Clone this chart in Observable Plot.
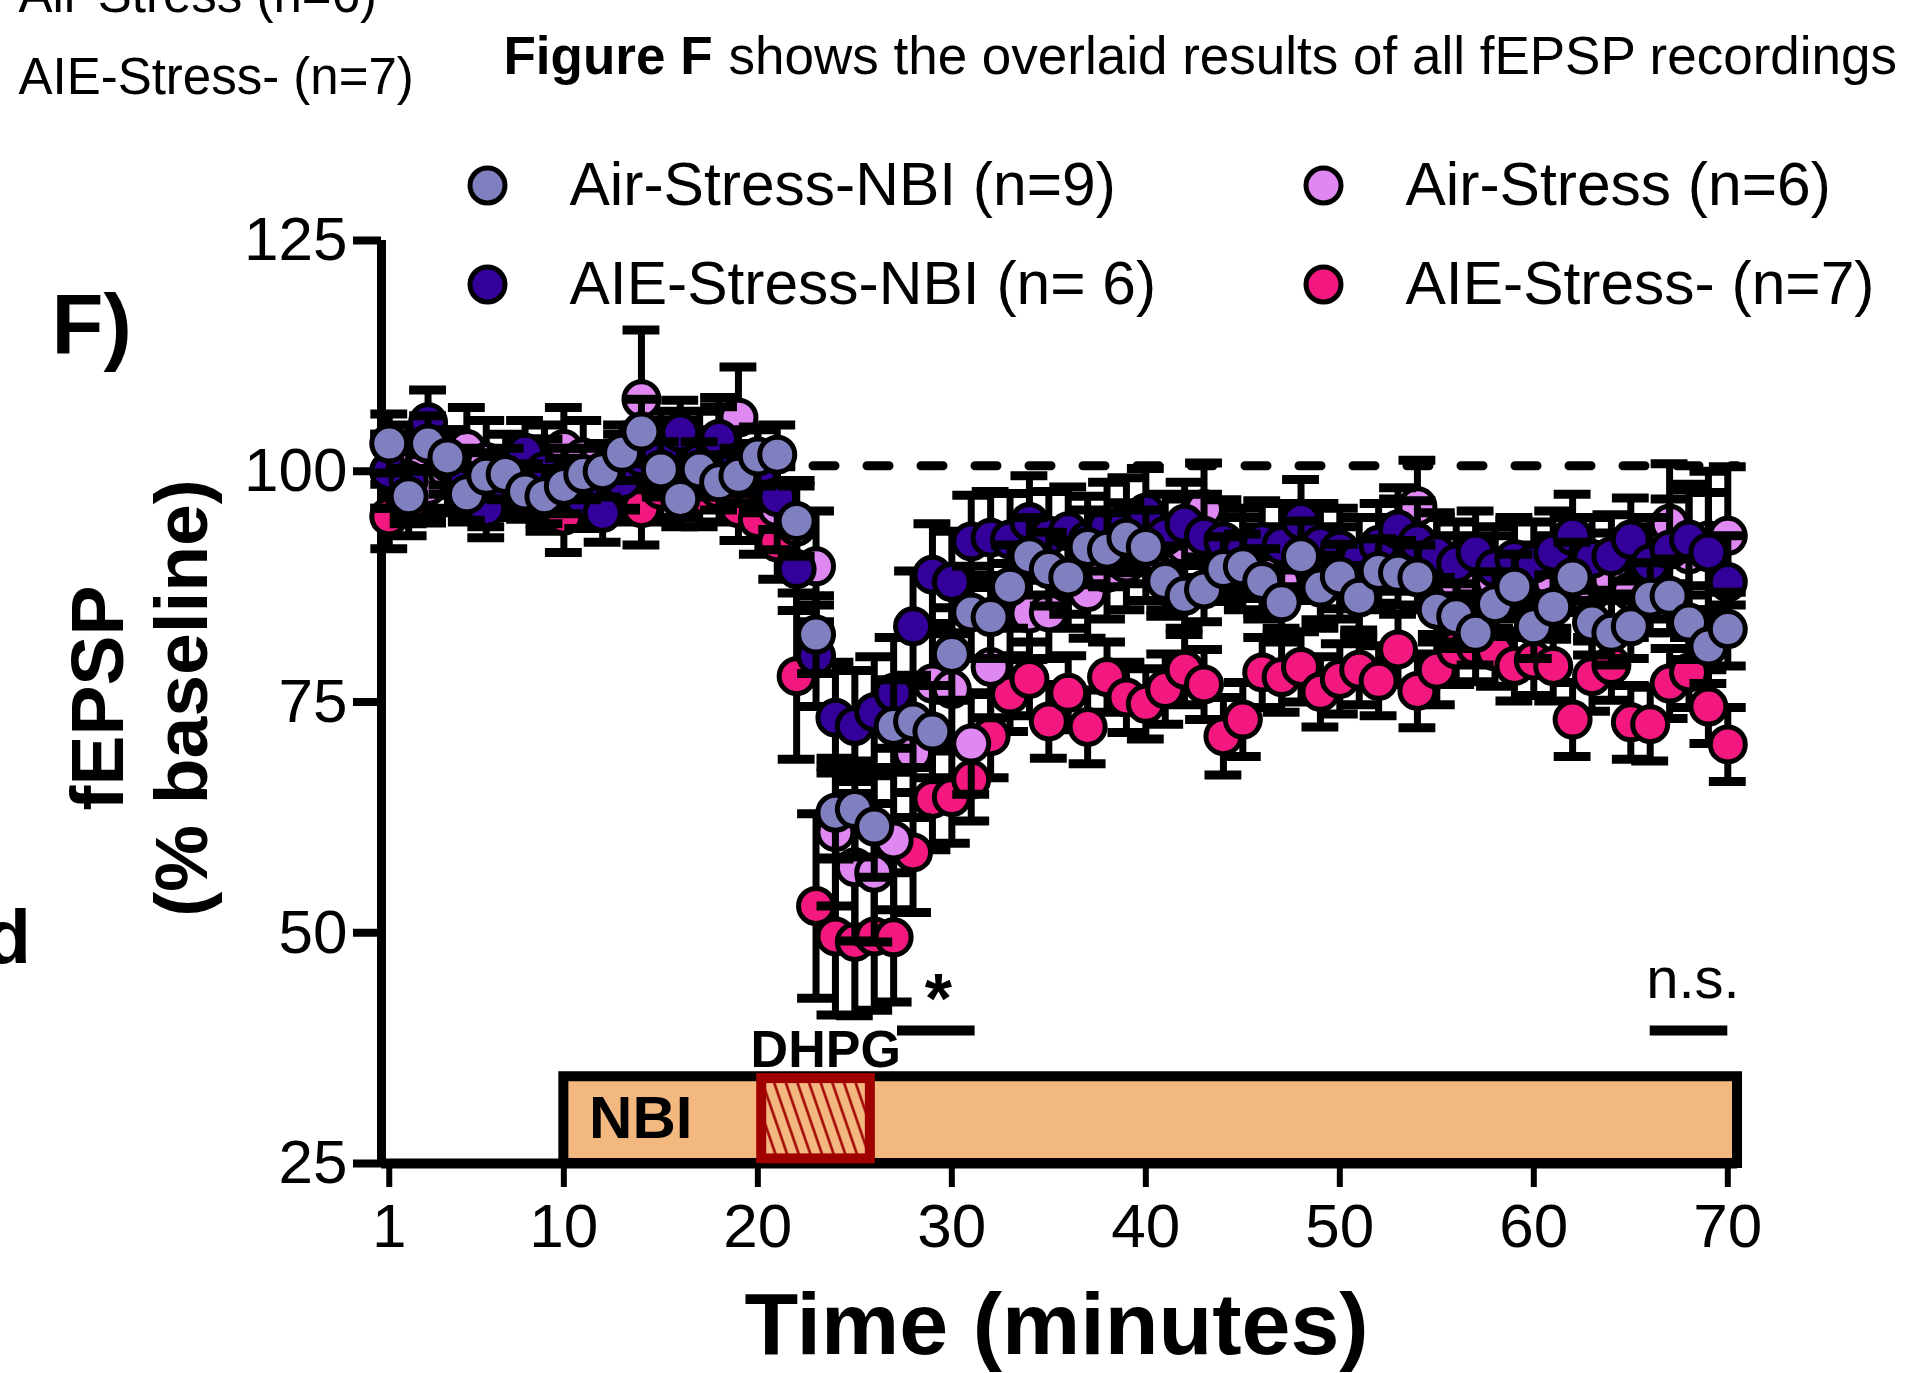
<!DOCTYPE html>
<html>
<head>
<meta charset="utf-8">
<script src="https://cdn.jsdelivr.net/npm/d3@7"></script>
<script src="https://cdn.jsdelivr.net/npm/@observablehq/plot@0.6"></script>
<style>
  body { margin: 0; background: #fff; }
  #page { position: relative; width: 1909px; height: 1373px; overflow: hidden; background: #fff; }
</style>
</head>
<body>
<div id="page"></div>
<script>
// ---------------- DATA ----------------
const times = [1,2,3,4,5,6,7,8,9,10,11,12,13,14,15,16,17,18,19,20,21,22,23,24,25,26,27,28,29,30,31,32,33,34,35,36,37,38,39,40,41,42,43,44,45,46,47,48,49,50,51,52,53,54,55,56,57,58,59,60,61,62,63,64,65,66,67,68,69,70];

const seriesNames = ["Air-Stress-NBI (n=9)", "AIE-Stress-NBI (n= 6)", "Air-Stress (n=6)", "AIE-Stress- (n=7)"];
const seriesColors = ["#8080C0", "#330099", "#E088F2", "#F2187F"];

const airStressNBI = [103,97.3,103,101.5,97.5,99.5,99.7,97.8,97.3,98.4,
  99.7,100,102,104.3,100.2,97,100.2,98.8,99.5,101.6,
  101.8,94.6,82.3,63,63.4,61.5,72.4,72.9,71.8,80.2,
  84.7,84.2,87.5,90.8,89.4,88.5,91.8,91.5,92.8,91.8,
  88.1,86.5,87.2,89.4,89.7,88.1,85.8,90.8,87.4,88.6,
  86.3,89.2,89,88.5,85,84.3,82.5,85.6,87.5,83.2,
  85.3,88.5,83.6,82.5,83.2,86.3,86.5,83.6,81,82.9];
const airStressNBIErr = [3.2,3,3,3,2.8,2.5,2.8,3,3,3,
  2.8,2.8,3,3.5,3,3,3,3,3,3.2,
  3.2,3.8,4.2,5,5.2,5.5,5,5,5,5,
  5,4.5,4.5,4.2,4,4,4,4,3.8,4,
  3.8,3.5,3.5,3.5,3.5,3.5,3.5,3.8,3.5,3.5,
  3.5,3.5,3.5,3.5,3.5,3.5,3.5,3.5,3.5,3.5,
  3.5,3.8,3.5,3.5,3.5,3.8,4,4,4,4];

const aieStressNBI = [100,99,105.3,101,99,96,98.5,102,100,99,
  97,95.5,99,101.5,102,104.2,101,103.5,101,99.5,
  97.2,89.4,80,73.3,72.4,73.9,76,83.2,88.8,88,
  92.4,92.8,92.6,94.5,93,93.5,92.5,94,94.5,95.5,
  93,94.3,93,92.4,91.5,92.3,92,94.6,92,91.5,
  90.5,92,93.7,92.3,91,90,91.2,89.5,90.5,90,
  91.2,93,90.5,90.8,92.6,90,91.5,92.6,91.2,88];
const aieStressNBIErr = [4,4,3.5,3.5,3.5,3.2,3.2,3.5,3.5,3.5,
  3.2,3.2,3.2,3.5,3.5,3.5,3.5,3.5,3.5,3.5,
  3.5,4.5,5.5,6,6,6,6,6,5.5,5.5,
  5,5,5,5,4.8,4.8,4.8,4.8,4.8,4.8,
  4.5,4.5,4.5,4.5,4.5,4.5,4.5,4.5,4.5,4.5,
  4.5,4.5,4.5,4.5,4.5,4.5,4.5,4.5,4.5,4.5,
  4.5,4.5,4.5,4.5,4.5,5,5.5,6,6.5,5];

const airStress = [100,101,98.4,100,102.4,101,100,99.5,101,102.4,
  101.5,99,100,107.8,102,101,102,103,105.8,100,
  96,94,89.7,60.9,57.1,56.5,60,69.5,77,76.4,
  70.5,78.8,85,84.6,84.7,88,86.9,89,90,91,
  90,92,95.9,91,90,89,88,91,88,89,
  87,90,92,96.2,90,88,87,88,89.7,87,
  88,90,87,88.3,87,89,94.3,91,92.5,93];
const airStressErr = [4,4,4,4,4.5,4.5,4,4,4,4.5,
  4,4,4,7.5,4.5,4.5,4.5,5,5.5,4.5,
  4.5,5,6,8,8,7.5,7.5,7,6.5,6,
  5.5,5.5,5,5,5,5,5,5,5,5,
  5,5,5,5,5,5,5,5,5,5,
  5,5,5,5,5,5,5,5,5,5,
  5,5,5,5,5,5,6.5,7,7.5,7.5];

const aieStress = [95.1,96.5,98.5,99,98,97.5,98.5,99,97,95.2,
  97.5,98.5,98,96,98,98.5,97.5,98,96,94.8,
  92.3,77.8,52.9,49.6,49,49.6,49.5,58.7,64.5,64.7,
  66.6,71.3,75.8,77.5,72.9,76,72.3,77.7,75.5,74.8,
  76.4,78.5,76.9,71.3,73.1,78.2,77.7,78.8,76.1,77.5,
  78.5,77.3,80.7,76.2,78.5,80.7,81,80.5,78.9,79.5,
  78.9,73.1,77.8,79,72.8,72.6,77,78.2,74.5,70.4];
const aieStressErr = [3.5,3.5,3.5,3.5,3.5,3.5,3.5,3.5,3.5,4,
  3.5,3.5,3.5,4,3.5,3.5,3.5,3.5,3.5,3.8,
  4,9,10,8.5,8,8,7,6.5,5.5,5,
  4.5,4.5,4,4,4,4,4,3.8,3.8,3.8,
  3.8,3.8,3.8,4.2,4,3.8,3.8,3.8,3.8,3.8,
  3.8,3.8,3.8,4,3.8,3.8,3.8,3.8,3.8,3.8,
  3.8,4,3.8,3.8,4,4,3.8,3.8,4,4];

const xTicks = [1,10,20,30,40,50,60,70];
const yTicks = [25,50,75,100,125];
const baselineLevel = 100.6;
const nbiPeriod = [10, 70.5];
const dhpgPeriod = [20.2, 25.8];
const sigStar = [27.2, 31.2];
const sigNS = [66, 70];

// ---------------- BUILD ----------------
const meansBySeries = [airStressNBI, aieStressNBI, airStress, aieStress];
const errsBySeries = [airStressNBIErr, aieStressNBIErr, airStressErr, aieStressErr];
const tables = seriesNames.map((name, s) => times.map((t, i) => ({
  t, mean: meansBySeries[s][i], err: errsBySeries[s][i], name
})));

const FONT = "'Liberation Sans', Arial, Helvetica, sans-serif";
const FX = 381, FY = 240; // frame top-left in page pixels
const capHalf = 0.95;
const DHPG_RED = "#A00000";
const TAN = "#F2B880";

function note(str, X, Y, opts = {}) {
  return Plot.text([str], {
    text: d => d, frameAnchor: "top-left", dx: X - FX, dy: Y - FY,
    textAnchor: "start", lineAnchor: "bottom", fill: "black", ...opts
  });
}

// drawing order bottom -> top
const drawOrder = [3, 2, 1, 0];
const seriesMarks = [];
for (const s of drawOrder) {
  const rows = tables[s];
  seriesMarks.push(
    Plot.ruleX(rows, {x: "t", y1: d => d.mean - d.err, y2: d => d.mean + d.err, stroke: "black", strokeWidth: 7}),
    Plot.ruleY(rows, {y: d => d.mean + d.err, x1: d => d.t - capHalf, x2: d => d.t + capHalf, stroke: "black", strokeWidth: 9}),
    Plot.ruleY(rows, {y: d => d.mean - d.err, x1: d => d.t - capHalf, x2: d => d.t + capHalf, stroke: "black", strokeWidth: 9}),
    Plot.dot(rows, {x: "t", y: "mean", r: 17.5, fill: seriesColors[s], stroke: "black", strokeWidth: 5})
  );
}

// legend (2 columns x 2 rows)
const legendPos = [[487, 185], [487, 284], [1323, 185], [1323, 284]];
const legendMarks = [];
seriesNames.forEach((name, s) => {
  const [lx, ly] = legendPos[s];
  legendMarks.push(
    Plot.dot([0], {frameAnchor: "top-left", dx: lx - FX, dy: ly - FY, r: 17.5, fill: seriesColors[s], stroke: "black", strokeWidth: 5}),
    note(name, lx + 82, ly, {lineAnchor: "middle", fontSize: 60.5})
  );
});

const plot = Plot.plot({
  width: 1909,
  height: 1373,
  marginLeft: 381,
  marginRight: 172,
  marginTop: 240,
  marginBottom: 210,
  style: {fontFamily: FONT, background: "white", overflow: "visible", color: "black"},
  x: {domain: [0.6, 70.5]},
  y: {domain: [25, 125]},
  marks: [
    // NBI application bar
    Plot.rect([{x1: nbiPeriod[0], x2: nbiPeriod[1], y1: 25, y2: 34.4}], {x1: "x1", x2: "x2", y1: "y1", y2: "y2", fill: TAN, stroke: "black", strokeWidth: 10}),
    // axis lines
    Plot.ruleY([25], {x1: 0.6, x2: 70.5, stroke: "black", strokeWidth: 10}),
    Plot.ruleX([0.6], {y1: 25, y2: 125, stroke: "black", strokeWidth: 9}),
    // DHPG box
    Plot.rect([{x1: dhpgPeriod[0], x2: dhpgPeriod[1], y1: 25.5, y2: 34.2}], {x1: "x1", x2: "x2", y1: "y1", y2: "y2", fill: TAN, stroke: DHPG_RED, strokeWidth: 10}),
    // axes
    Plot.axisX({ticks: xTicks, tickSize: 24, tickPadding: 15, strokeWidth: 6, fontSize: 62, label: null, tickFormat: d => String(d)}),
    Plot.axisY({ticks: yTicks, tickSize: 28, tickPadding: 6, strokeWidth: 8, fontSize: 62, label: null, tickFormat: d => String(d)}),
    // baseline dashed line
    Plot.ruleY([baselineLevel], {x1: 0.6, x2: 70.5, stroke: "black", strokeWidth: 9, strokeDasharray: "22,32", strokeLinecap: "round"}),
    ...seriesMarks,
    // annotations in data space
    Plot.text(["DHPG"], {x: 23.5, y: 35.5, text: d => d, textAnchor: "middle", lineAnchor: "bottom", fontSize: 52, fontWeight: "bold", fill: "black"}),
    Plot.text(["NBI"], {x: 11.3, y: 29.8, text: d => d, textAnchor: "start", lineAnchor: "middle", fontSize: 60, fontWeight: "bold", fill: "black"}),
    Plot.text(["*"], {x: 29.3, y: 40.2, text: d => d, textAnchor: "middle", lineAnchor: "bottom", fontSize: 70, fontWeight: "bold", fill: "black"}),
    Plot.ruleY([39.4], {x1: sigStar[0], x2: sigStar[1], stroke: "black", strokeWidth: 10}),
    Plot.text(["n.s."], {x: 68.2, y: 42.9, text: d => d, textAnchor: "middle", lineAnchor: "bottom", fontSize: 58, fill: "black"}),
    Plot.ruleY([39.4], {x1: sigNS[0], x2: sigNS[1], stroke: "black", strokeWidth: 10}),
    // axis titles
    Plot.text(["Time (minutes)"], {text: d => d, frameAnchor: "bottom", dx: -3, dy: 190, lineAnchor: "bottom", textAnchor: "middle", fontSize: 88, fontWeight: "bold", fill: "black"}),
    Plot.text(["fEPSP"], {text: d => d, frameAnchor: "left", dx: 98 - FX, dy: -4, rotate: -90, textAnchor: "middle", lineAnchor: "middle", fontSize: 75, fontWeight: "bold", fill: "black"}),
    Plot.text(["(% baseline)"], {text: d => d, frameAnchor: "left", dx: 182 - FX, dy: -4, rotate: -90, textAnchor: "middle", lineAnchor: "middle", fontSize: 75, fontWeight: "bold", fill: "black"}),
    // legend
    ...legendMarks,
    // surrounding page text
    note("Air-Stress (n=6)", 18, 11, {fontSize: 51}),
    note("AIE-Stress- (n=7)", 18, 93, {fontSize: 51}),
    note("Figure F", 503, 73, {fontSize: 53, fontWeight: "bold"}),
    note("shows the overlaid results of all fEPSP recordings", 728, 73, {fontSize: 53}),
    note("F)", 51, 353, {fontSize: 85, fontWeight: "bold"}),
    note("d", -16, 962, {fontSize: 76, fontWeight: "bold"})
  ]
});

// hatch pattern for the DHPG box
const svgSel = d3.select(plot);
const SVGNS = "http://www.w3.org/2000/svg";
const defs = document.createElementNS(SVGNS, "defs");
const pat = document.createElementNS(SVGNS, "pattern");
pat.setAttribute("id", "dhpgHatch");
pat.setAttribute("patternUnits", "userSpaceOnUse");
pat.setAttribute("width", "11");
pat.setAttribute("height", "11");
pat.setAttribute("patternTransform", "rotate(-19)");
const pbg = document.createElementNS(SVGNS, "rect");
pbg.setAttribute("width", "11"); pbg.setAttribute("height", "11"); pbg.setAttribute("fill", TAN);
const pln = document.createElementNS(SVGNS, "line");
pln.setAttribute("x1", "5.5"); pln.setAttribute("y1", "-1"); pln.setAttribute("x2", "5.5"); pln.setAttribute("y2", "12");
pln.setAttribute("stroke", DHPG_RED); pln.setAttribute("stroke-width", "2.5");
pat.appendChild(pbg); pat.appendChild(pln); defs.appendChild(pat);
plot.insertBefore(defs, plot.firstChild);
svgSel.selectAll("g").filter(function () {
  return (this.getAttribute("stroke") || "").toUpperCase() === DHPG_RED;
}).each(function () {
  this.setAttribute("fill", "url(#dhpgHatch)");
  d3.select(this).selectAll("rect").attr("fill", "url(#dhpgHatch)");
});

document.getElementById("page").appendChild(plot);
</script>
</body>
</html>
